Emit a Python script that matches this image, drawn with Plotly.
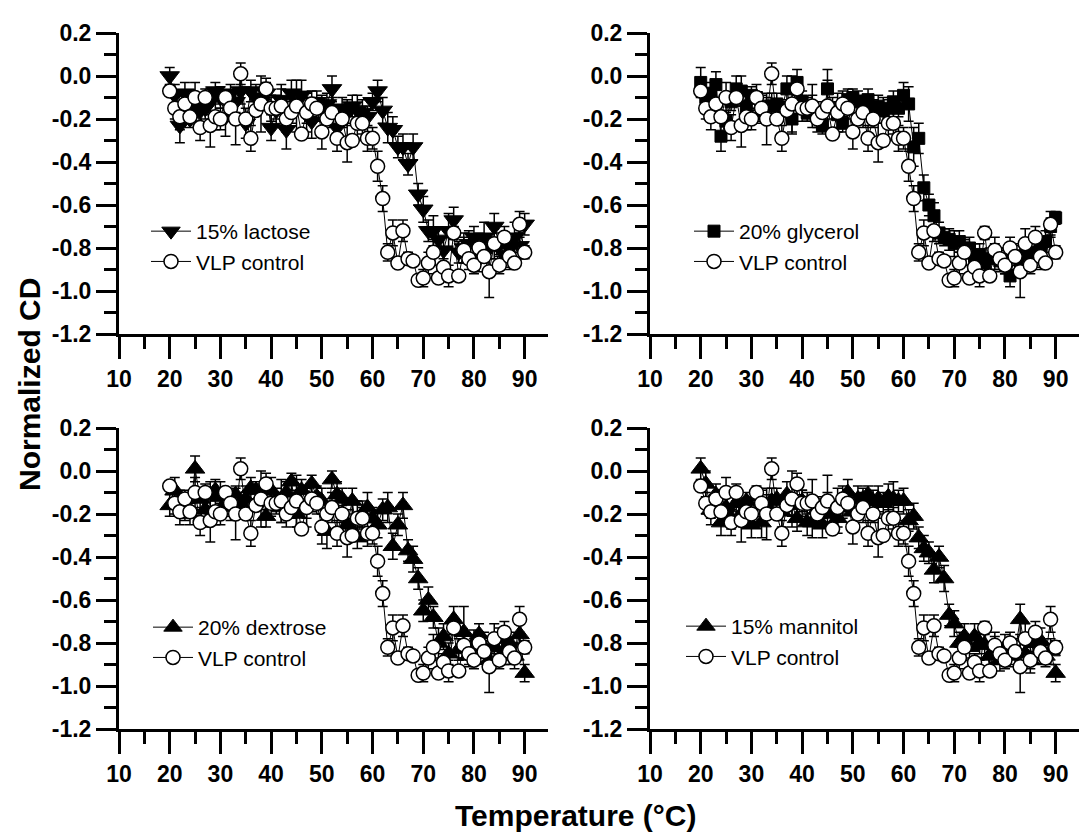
import plotly.graph_objects as go

# ---------------- data ----------------
temps = list(range(20, 91))

control = [
    -0.07, -0.15, -0.19, -0.13, -0.19, -0.10, -0.24, -0.10, -0.23, -0.19,
    -0.20, -0.10, -0.15, -0.20, 0.01, -0.20, -0.29, -0.16, -0.13, -0.06,
    -0.15, -0.15, -0.14, -0.20, -0.17, -0.14, -0.27, -0.17, -0.13, -0.15,
    -0.26, -0.20, -0.17, -0.29, -0.20, -0.31, -0.30, -0.22, -0.22, -0.29,
    -0.29, -0.42, -0.57, -0.82, -0.73, -0.87, -0.72, -0.85, -0.86, -0.95,
    -0.94, -0.87, -0.82, -0.94, -0.89, -0.93, -0.73, -0.93, -0.81, -0.85,
    -0.88, -0.80, -0.84, -0.91, -0.78, -0.88, -0.75, -0.84, -0.87, -0.69,
    -0.82]
control_err = [
    0.02, 0.05, 0.06, 0.02, 0.02, 0.07, 0.06, 0.04, 0.10, 0.06,
    0.05, 0.02, 0.06, 0.12, 0.05, 0.02, 0.06, 0.02, 0.13, 0.05,
    0.06, 0.05, 0.10, 0.06, 0.05, 0.12, 0.02, 0.09, 0.06, 0.05,
    0.08, 0.02, 0.07, 0.06, 0.04, 0.09, 0.02, 0.08, 0.05, 0.06,
    0.05, 0.07, 0.06, 0.04, 0.06, 0.02, 0.05, 0.03, 0.02, 0.02,
    0.04, 0.05, 0.06, 0.02, 0.04, 0.05, 0.03, 0.02, 0.06, 0.05,
    0.04, 0.05, 0.03, 0.12, 0.07, 0.04, 0.05, 0.06, 0.02, 0.06,
    0.03]

lactose = [
    0.00, -0.09, -0.23, -0.08, -0.20, -0.15, -0.16, -0.15, -0.12, -0.07,
    -0.10, -0.19, -0.08, -0.12, -0.07, -0.22, -0.07, -0.10, -0.12, -0.08,
    -0.24, -0.16, -0.11, -0.25, -0.08, -0.12, -0.09, -0.16, -0.21, -0.12,
    -0.15, -0.13, -0.06, -0.24, -0.15, -0.17, -0.14, -0.16, -0.17, -0.19,
    -0.12, -0.07, -0.16, -0.24, -0.25, -0.33, -0.33, -0.41, -0.33, -0.55,
    -0.62, -0.72, -0.72, -0.76, -0.81, -0.72, -0.67, -0.82, -0.80, -0.78,
    -0.75, -0.85, -0.75, -0.80, -0.70, -0.78, -0.83, -0.80, -0.75, -0.79,
    -0.69]
lactose_err = [
    0.04, 0.05, 0.08, 0.05, 0.04, 0.06, 0.07, 0.05, 0.06, 0.04,
    0.05, 0.09, 0.04, 0.05, 0.06, 0.07, 0.05, 0.06, 0.04, 0.05,
    0.06, 0.07, 0.05, 0.09, 0.06, 0.05, 0.07, 0.06, 0.08, 0.05,
    0.06, 0.05, 0.06, 0.07, 0.05, 0.06, 0.05, 0.07, 0.06, 0.05,
    0.04, 0.05, 0.06, 0.07, 0.06, 0.05, 0.06, 0.05, 0.06, 0.05,
    0.06, 0.05, 0.07, 0.05, 0.06, 0.08, 0.06, 0.05, 0.07, 0.06,
    0.05, 0.06, 0.07, 0.05, 0.06, 0.05, 0.06, 0.05, 0.07, 0.06,
    0.05]

glycerol = [
    -0.03, -0.10, -0.08, -0.04, -0.28, -0.21, -0.12, -0.06, -0.07, -0.14,
    -0.09, -0.10, -0.17, -0.14, -0.14, -0.13, -0.15, -0.06, -0.20, -0.03,
    -0.12, -0.17, -0.15, -0.19, -0.23, -0.06, -0.15, -0.18, -0.22, -0.11,
    -0.10, -0.12, -0.13, -0.11, -0.15, -0.14, -0.16, -0.15, -0.12, -0.15,
    -0.09, -0.13, -0.33, -0.29, -0.52, -0.60, -0.65, -0.73, -0.75, -0.76,
    -0.78, -0.77, -0.80, -0.80, -0.84, -0.83, -0.87, -0.85, -0.84, -0.86,
    -0.86, -0.93, -0.84, -0.86, -0.84, -0.82, -0.83, -0.80, -0.77, -0.70,
    -0.66]
glycerol_err = [
    0.07, 0.04, 0.05, 0.06, 0.07, 0.05, 0.04, 0.06, 0.07, 0.05,
    0.04, 0.06, 0.05, 0.04, 0.06, 0.05, 0.04, 0.06, 0.07, 0.06,
    0.05, 0.04, 0.06, 0.05, 0.04, 0.09, 0.05, 0.06, 0.04, 0.05,
    0.04, 0.05, 0.04, 0.05, 0.04, 0.05, 0.06, 0.04, 0.05, 0.04,
    0.06, 0.08, 0.09, 0.07, 0.06, 0.05, 0.06, 0.05, 0.04, 0.05,
    0.06, 0.05, 0.04, 0.05, 0.06, 0.05, 0.04, 0.05, 0.06, 0.05,
    0.06, 0.05, 0.06, 0.05, 0.04, 0.05, 0.06, 0.04, 0.05, 0.04,
    0.03]

dextrose = [
    -0.16, -0.09, -0.13, -0.16, -0.20, 0.01, -0.13, -0.18, -0.11, -0.09,
    -0.12, -0.15, -0.17, -0.11, -0.15, -0.13, -0.08, -0.09, -0.12, -0.21,
    -0.09, -0.13, -0.17, -0.10, -0.05, -0.20, -0.09, -0.15, -0.06, -0.12,
    -0.14, -0.28, -0.04, -0.11, -0.13, -0.25, -0.14, -0.31, -0.20, -0.17,
    -0.22, -0.25, -0.18, -0.17, -0.35, -0.25, -0.16, -0.37, -0.41, -0.50,
    -0.65, -0.60, -0.68, -0.80, -0.77, -0.85, -0.69, -0.83, -0.75, -0.86,
    -0.80, -0.76, -0.82, -0.88, -0.82, -0.78, -0.84, -0.80, -0.86, -0.76,
    -0.94]
dextrose_err = [
    0.05, 0.06, 0.04, 0.07, 0.05, 0.06, 0.05, 0.08, 0.06, 0.05,
    0.07, 0.05, 0.06, 0.04, 0.05, 0.06, 0.05, 0.04, 0.06, 0.05,
    0.06, 0.05, 0.07, 0.05, 0.04, 0.06, 0.05, 0.07, 0.04, 0.05,
    0.06, 0.08, 0.04, 0.06, 0.05, 0.07, 0.06, 0.05, 0.06, 0.07,
    0.05, 0.06, 0.05, 0.07, 0.06, 0.05, 0.06, 0.05, 0.06, 0.05,
    0.05, 0.06, 0.05, 0.07, 0.06, 0.05, 0.06, 0.05, 0.12, 0.05,
    0.06, 0.05, 0.07, 0.05, 0.06, 0.05, 0.06, 0.05, 0.06, 0.05,
    0.04]

mannitol = [
    0.01, -0.06, -0.18, -0.11, -0.24, -0.17, -0.22, -0.15, -0.20, -0.14,
    -0.25, -0.12, -0.24, -0.16, -0.14, -0.13, -0.19, -0.11, -0.16, -0.22,
    -0.14, -0.24, -0.24, -0.18, -0.25, -0.15, -0.20, -0.22, -0.17, -0.10,
    -0.19, -0.13, -0.13, -0.11, -0.14, -0.13, -0.15, -0.12, -0.13, -0.14,
    -0.14, -0.23, -0.21, -0.31, -0.36, -0.38, -0.46, -0.40, -0.50, -0.67,
    -0.71, -0.80, -0.77, -0.82, -0.77, -0.80, -0.81, -0.86, -0.83, -0.88,
    -0.82, -0.86, -0.84, -0.69, -0.85, -0.88, -0.80, -0.79, -0.86, -0.84,
    -0.94]
mannitol_err = [
    0.05, 0.06, 0.04, 0.05, 0.06, 0.07, 0.05, 0.06, 0.05, 0.04,
    0.06, 0.05, 0.07, 0.05, 0.06, 0.05, 0.07, 0.06, 0.05, 0.06,
    0.05, 0.06, 0.07, 0.05, 0.06, 0.05, 0.06, 0.07, 0.05, 0.06,
    0.05, 0.06, 0.05, 0.04, 0.05, 0.06, 0.05, 0.06, 0.08, 0.05,
    0.06, 0.05, 0.06, 0.05, 0.06, 0.05, 0.06, 0.05, 0.06, 0.05,
    0.06, 0.05, 0.06, 0.05, 0.06, 0.05, 0.06, 0.05, 0.06, 0.05,
    0.06, 0.05, 0.06, 0.07, 0.05, 0.06, 0.05, 0.06, 0.05, 0.06,
    0.04]

series_names = ["15% lactose", "20% glycerol", "20% dextrose", "15% mannitol"]
control_name = "VLP control"
x_tickvals = [10, 20, 30, 40, 50, 60, 70, 80, 90]
x_ticktext = ["10", "20", "30", "40", "50", "60", "70", "80", "90"]
y_tickvals = [0.2, 0.0, -0.2, -0.4, -0.6, -0.8, -1.0, -1.2]
y_ticktext = ["0.2", "0.0", "-0.2", "-0.4", "-0.6", "-0.8", "-1.0", "-1.2"]
x_title = "Temperature (°C)"
y_title = "Normalized CD"

# ---------------- layout helpers ----------------
W, H = 1086, 840
FONT = "Arial, Liberation Sans, sans-serif"


def fx(p):
    return p / W


def fy(p):
    return 1 - p / H


panels = [
    dict(y=lactose, e=lactose_err, sym="triangle-down", size=17,
         xd=(119, 548), yd=(33, 334), leg=(146, 211)),
    dict(y=glycerol, e=glycerol_err, sym="square", size=12,
         xd=(650, 1079), yd=(33, 334), leg=(689, 211)),
    dict(y=dextrose, e=dextrose_err, sym="triangle-up", size=17,
         xd=(119, 548), yd=(428, 729), leg=(148, 607)),
    dict(y=mannitol, e=mannitol_err, sym="triangle-up", size=17,
         xd=(650, 1079), yd=(428, 729), leg=(681, 606)),
]

fig = go.Figure()
layout = dict(
    width=W, height=H,
    margin=dict(l=0, r=0, t=0, b=0, pad=0, autoexpand=False),
    paper_bgcolor="white", plot_bgcolor="white",
    font=dict(family=FONT, color="black"),
    showlegend=True,
)

for i, p in enumerate(panels):
    n = "" if i == 0 else str(i + 1)
    xa, ya = "x" + n, "y" + n
    legname = "legend" + n
    fig.add_trace(go.Scatter(
        x=temps, y=p["y"], name=series_names[i], xaxis=xa, yaxis=ya,
        mode="lines+markers", legend=legname, cliponaxis=False,
        line=dict(color="black", width=1),
        marker=dict(symbol=p["sym"], size=p["size"], color="black",
                    line=dict(color="black", width=1)),
        error_y=dict(type="data", array=p["e"], visible=True,
                     color="black", thickness=1.5, width=5),
    ))
    fig.add_trace(go.Scatter(
        x=temps, y=control, name=control_name, xaxis=xa, yaxis=ya,
        mode="lines+markers", legend=legname, cliponaxis=False,
        line=dict(color="black", width=1),
        marker=dict(symbol="circle", size=14, color="white",
                    line=dict(color="black", width=1.5)),
        error_y=dict(type="data", array=control_err, visible=True,
                     color="black", thickness=1.5, width=5),
    ))
    axfont = dict(family=FONT, size=23, color="black", weight="bold")
    layout["xaxis" + n] = dict(
        domain=[fx(p["xd"][0]), fx(p["xd"][1])], anchor=ya,
        range=[10, 94.6], tickmode="array", tickvals=x_tickvals,
        ticktext=x_ticktext, ticks="outside", ticklen=22, tickwidth=3,
        tickcolor="black", showline=True, linewidth=3, linecolor="black",
        showgrid=False, zeroline=False, tickfont=axfont, automargin=False,
        minor=dict(tickmode="linear", tick0=15, dtick=10, ticks="outside",
                   ticklen=12, tickwidth=3, tickcolor="black",
                   showgrid=False),
    )
    layout["yaxis" + n] = dict(
        domain=[fy(p["yd"][1]), fy(p["yd"][0])], anchor=xa,
        range=[-1.2, 0.2], tickmode="array", tickvals=y_tickvals,
        ticktext=y_ticktext, ticks="outside", ticklen=20, tickwidth=3,
        tickcolor="black", showline=True, linewidth=3, linecolor="black",
        showgrid=False, zeroline=False, tickfont=axfont, automargin=False,
        minor=dict(tickmode="linear", tick0=-1.1, dtick=0.2,
                   ticks="outside", ticklen=12, tickwidth=3,
                   tickcolor="black", showgrid=False),
    )
    layout[legname] = dict(
        x=fx(p["leg"][0]), y=fy(p["leg"][1]), xanchor="left", yanchor="top",
        bgcolor="rgba(0,0,0,0)", borderwidth=0,
        font=dict(family=FONT, size=21, color="black"),
        itemwidth=40, tracegroupgap=0,
    )

layout["annotations"] = [
    dict(text=y_title, x=fx(30), y=fy(385), xref="paper", yref="paper",
         xanchor="center", yanchor="middle",
         textangle=-90, showarrow=False,
         font=dict(family=FONT, size=30, color="black", weight="bold")),
    dict(text=x_title, x=fx(575), y=fy(815), xref="paper", yref="paper",
         xanchor="center", yanchor="middle", showarrow=False,
         font=dict(family=FONT, size=30, color="black", weight="bold")),
]

fig.update_layout(**layout)
fig.write_html("out.html")
